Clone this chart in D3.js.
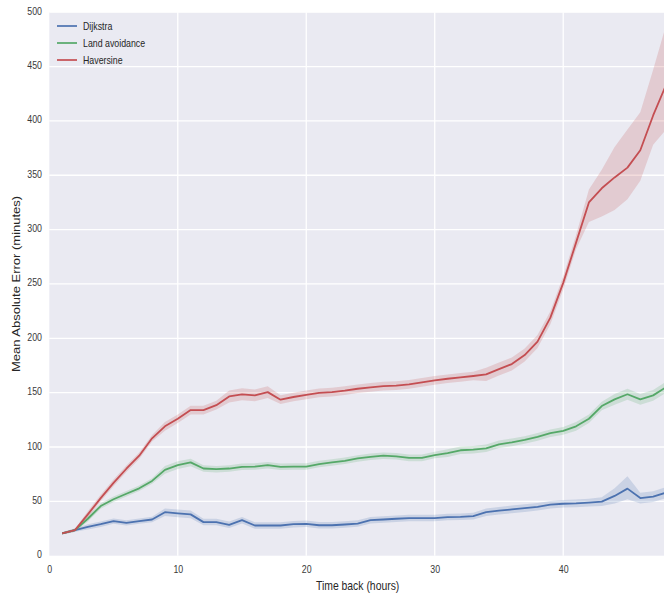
<!DOCTYPE html>
<html>
<head>
<meta charset="utf-8">
<script src="https://cdn.jsdelivr.net/npm/d3@7"></script>
<style>
  html, body { margin: 0; padding: 0; background: #ffffff; }
  svg { display: block; }
  text { font-family: "Liberation Sans", Arial, sans-serif; }
</style>
</head>
<body>
<svg id="chart" width="664" height="595"></svg>
<script>
// ---------------- data ----------------
const hours = d3.range(1, 49); // 1..48

const dijkstra = [20.5,23.5,26.5,29,31.8,30.2,31.8,33.3,40,38.9,
  38,30.9,30.9,28.4,32.7,27.8,27.8,27.8,29,29.3,
  28,28,28.7,29.6,32.7,33.3,34,34.6,34.6,34.6,
  35.5,35.8,36.4,40,41.4,42.6,43.8,45,46.9,47.8,
  48.1,48.8,49.7,55,61.7,53,54.3,58];
const dijkstraLo = [19.5,22,24,26.5,29.3,27.7,29.3,30.8,36.5,35.4,
  34.5,27.9,27.9,25.4,29.7,24.8,24.8,24.8,26,26.3,
  25,25,25.7,26.6,29.7,30.3,31,31.6,31.6,31.6,
  32.5,32.8,33.4,36.5,37.9,39.1,40.3,41.5,43.4,44.3,
  44.6,45.3,45.7,48,52,48,49.3,53];
const dijkstraHi = [21.5,25,29,31.5,34.3,32.7,34.3,35.8,43.5,42.4,
  41.5,33.9,33.9,31.4,35.7,30.8,30.8,30.8,32,32.3,
  31,31,31.7,32.6,35.7,36.3,37,37.6,37.6,37.6,
  38.5,38.8,39.4,43.5,44.9,46.1,47.3,48.5,50.4,51.3,
  51.6,52.3,53.7,62,73,58,59.3,63];

const landAvoidance = [20.5,23.5,34,45.7,51.9,57,62,68.8,79,83.3,
  85.8,80.2,79.6,80.2,81.8,82,83.3,81.8,82,82,
  84.3,85.8,87.3,89.5,91,92,91.4,90,90,92.6,
  94.4,97,97.5,98.8,102.5,104.3,106.5,109.3,112.7,114.8,
  119,126,137.7,143.8,148.5,143.8,147.5,155];
const landAvoidanceLo = [19.5,22,31.5,43.2,49.4,54.5,59.5,66.3,75.5,79.8,
  82.3,77.2,76.6,77.2,78.8,79,80.3,78.8,79,79,
  81.3,82.8,84.3,86.5,88,89,88.4,87,87,89.6,
  90.9,93.5,94,95.3,99,100.8,103,105.8,109.2,111.3,
  115,122,133.7,138.8,143.5,138.8,142.5,150];
const landAvoidanceHi = [21.5,25,36.5,48.2,54.4,59.5,64.5,71.3,82.5,86.8,
  89.3,83.2,82.6,83.2,84.8,85,86.3,84.8,85,85,
  87.3,88.8,90.3,92.5,94,95,94.4,93,93,95.6,
  97.9,100.5,101,102.3,106,107.8,110,112.8,116.2,118.3,
  123,130,141.7,148.8,153.5,148.8,152.5,160];

const haversine = [20.5,23.5,38,53,67,80,92,108,119,126,
  134,134,138.5,146.5,148.5,147.5,150.5,143.5,146,148,
  149.8,150.5,151.8,153.6,154.9,156,156.4,157.6,159.5,161.3,
  162.8,164,165.3,166.8,171.7,176.3,184.6,197,219,251,
  288,325,338,348,357,373,405,433];
const haversineLo = [19.5,22,35,50,64,77,89,105,115,122,
  130,130,134.5,141,143,142,145,139.5,142,144,
  145.8,146.5,147.8,149.6,150.9,152,152.4,153.6,155.5,157.3,
  158.8,160,161.3,160.8,165.7,170.3,178.6,191,213,245,
  282,307,312,318,328,345,378,392];
const haversineHi = [21.5,25,41,56,70,83,95,111,123,130,
  138,138,142.5,152,154,153,156,147.5,150,152,
  153.8,154.5,155.8,157.6,158.9,160,160.4,161.6,163.5,165.3,
  166.8,168,169.3,172.8,177.7,182.3,190.6,203,225,257,
  295,337,355,376,392,408,447,488];

const seriesNames = ["Dijkstra", "Land avoidance", "Haversine"];
const seriesColors = ["#4C72B0", "#55A868", "#C44E52"];
const xTicks = [0, 10, 20, 30, 40];
const yTicks = [0, 50, 100, 150, 200, 250, 300, 350, 400, 450, 500];
const xLabel = "Time back (hours)";
const yLabel = "Mean Absolute Error (minutes)";

// ---------------- layout ----------------
const SQ = 0.8; // horizontal text squeeze seen in the reference
const plot = { left: 49.3, right: 666, top: 12.2, bottom: 555.7 };

const svg = d3.select("#chart");
const x = d3.scaleLinear().domain([0, 48]).range([plot.left, plot.right]);
const y = d3.scaleLinear().domain([0, 500]).range([plot.bottom, plot.top]);

// background
svg.append("rect")
  .attr("x", plot.left).attr("y", plot.top)
  .attr("width", plot.right - plot.left).attr("height", plot.bottom - plot.top)
  .attr("fill", "#EAEAF2");

// grid
const grid = svg.append("g");
grid.selectAll("line.gy").data(yTicks.slice(1)).enter().append("line")
  .attr("x1", plot.left).attr("x2", plot.right)
  .attr("y1", d => y(d)).attr("y2", d => y(d))
  .attr("stroke", "#ffffff").attr("stroke-width", 1.3);
grid.selectAll("line.gx").data(xTicks.slice(1)).enter().append("line")
  .attr("y1", plot.top).attr("y2", plot.bottom)
  .attr("x1", d => x(d)).attr("x2", d => x(d))
  .attr("stroke", "#ffffff").attr("stroke-width", 1.3);

// series
const series = [
  { name: seriesNames[0], color: seriesColors[0], mean: dijkstra, lo: dijkstraLo, hi: dijkstraHi },
  { name: seriesNames[1], color: seriesColors[1], mean: landAvoidance, lo: landAvoidanceLo, hi: landAvoidanceHi },
  { name: seriesNames[2], color: seriesColors[2], mean: haversine, lo: haversineLo, hi: haversineHi }
];

const clip = svg.append("clipPath").attr("id", "clip").append("rect")
  .attr("x", plot.left).attr("y", plot.top)
  .attr("width", plot.right - plot.left).attr("height", plot.bottom - plot.top);

const marks = svg.append("g").attr("clip-path", "url(#clip)");

const area = d3.area()
  .x((d, i) => x(hours[i]))
  .y0(d => y(d[0]))
  .y1(d => y(d[1]));
const line = d3.line()
  .x((d, i) => x(hours[i]))
  .y(d => y(d));

series.forEach(s => {
  marks.append("path")
    .datum(s.lo.map((v, i) => [v, s.hi[i]]))
    .attr("d", area)
    .attr("fill", s.color).attr("fill-opacity", 0.2);
});
series.forEach(s => {
  marks.append("path")
    .datum(s.mean)
    .attr("d", line)
    .attr("fill", "none")
    .attr("stroke", s.color).attr("stroke-width", 1.8)
    .attr("stroke-linejoin", "round");
});

// axes
const yAxis = svg.append("g")
  .attr("transform", `translate(${plot.left},0)`)
  .call(d3.axisLeft(y).tickValues(yTicks).tickSize(0).tickFormat(d3.format("d")));
yAxis.select(".domain").remove();
yAxis.selectAll("text")
  .attr("x", -7.3 / SQ)
  .attr("y", -1.5)
  .attr("transform", `scale(${SQ},1)`)
  .attr("font-size", 11).attr("fill", "#3a3a3a")
  .attr("font-family", "Liberation Sans, Arial, sans-serif");

const xAxis = svg.append("g")
  .attr("transform", `translate(0,${plot.bottom})`)
  .call(d3.axisBottom(x).tickValues(xTicks).tickSize(0).tickPadding(9).tickFormat(d3.format("d")));
xAxis.select(".domain").remove();
xAxis.selectAll("text")
  .attr("transform", `scale(${SQ},1)`)
  .attr("font-size", 11).attr("fill", "#3a3a3a")
  .attr("font-family", "Liberation Sans, Arial, sans-serif");

// axis labels
svg.append("text")
  .attr("transform", `translate(${(plot.left + plot.right) / 2},589.5) scale(${SQ},1)`)
  .attr("text-anchor", "middle")
  .attr("font-size", 13).attr("fill", "#262626")
  .text(xLabel);

svg.append("text")
  .attr("transform", `translate(20,${(plot.top + plot.bottom) / 2}) scale(${SQ},1) rotate(-90)`)
  .attr("text-anchor", "middle")
  .attr("font-size", 13).attr("fill", "#262626")
  .text(yLabel);

// legend
const legend = svg.append("g");
series.forEach((s, i) => {
  const ly = 26 + i * 17;
  legend.append("line")
    .attr("x1", 57).attr("x2", 77).attr("y1", ly).attr("y2", ly)
    .attr("stroke", s.color).attr("stroke-width", 2).attr("stroke-opacity", 0.85);
  legend.append("text")
    .attr("transform", `translate(83,${ly}) scale(${SQ},1)`)
    .attr("dy", "0.35em")
    .attr("font-size", 11).attr("fill", "#262626")
    .text(s.name);
});
</script>
</body>
</html>
